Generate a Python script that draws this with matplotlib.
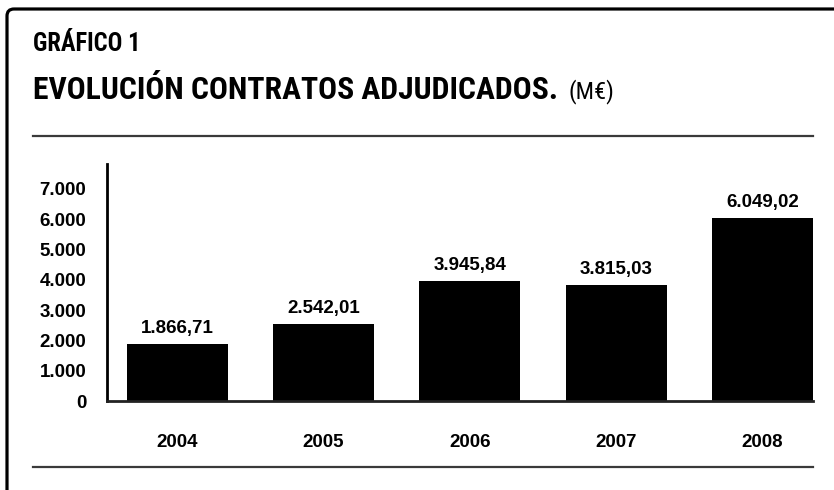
import matplotlib.pyplot as plt
from matplotlib.lines import Line2D
from matplotlib.path import Path
from matplotlib.patches import PathPatch
from matplotlib import font_manager
from matplotlib.font_manager import FontProperties

years = ['2004', '2005', '2006', '2007', '2008']
values = [1866.71, 2542.01, 3945.84, 3815.03, 6049.02]
value_labels = ['1.866,71', '2.542,01', '3.945,84', '3.815,03', '6.049,02']
yticks = [0, 1000, 2000, 3000, 4000, 5000, 6000, 7000]
ytick_labels = ['0', '1.000', '2.000', '3.000', '4.000', '5.000', '6.000', '7.000']

plt.rcParams['font.family'] = ['Liberation Sans', 'DejaVu Sans']


def weight_num(w):
    if isinstance(w, int):
        return w
    return font_manager.weight_dict.get(str(w), 400)


# look for a narrow / condensed face for the headline
cond = [f for f in font_manager.fontManager.ttflist
        if 'DejaVu' not in f.name and f.style == 'normal'
        and ('Narrow' in f.name or 'Condensed' in f.name or 'condensed' in str(f.stretch))]
for pref in ('Roboto Condensed', 'Liberation Sans Narrow', 'Roboto'):
    sub = [f for f in cond if f.name == pref]
    if sub:
        cond = sub
        break


def pick(target):
    if not cond:
        return FontProperties(family='Liberation Sans',
                              weight='bold' if target >= 700 else 'normal')
    best = min(cond, key=lambda f: abs(weight_num(f.weight) - target))
    return FontProperties(fname=best.fname)


head_bold = pick(700)
head_reg = pick(400)

W, H = 834, 490
fig = plt.figure(figsize=(W / 100, H / 100), dpi=100)


def fx(px):
    return px / W


def fy(py):
    return 1 - py / H


# outer frame: left and top sides with rounded corner
verts = [(fx(7), fy(495)), (fx(7), fy(16)), (fx(7), fy(9)), (fx(14), fy(9)), (fx(840), fy(9))]
codes = [Path.MOVETO, Path.LINETO, Path.CURVE3, Path.CURVE3, Path.LINETO]
fig.patches.append(PathPatch(Path(verts, codes), fill=False, lw=2.3, ec='black',
                             transform=fig.transFigure))

# separator lines
for y in (136, 467):
    fig.add_artist(Line2D([fx(33), fx(813)], [fy(y), fy(y)], color='#3a3a3a', lw=1.6,
                          transform=fig.transFigure))

renderer = fig.canvas.get_renderer()


def fit_text(x0, y0, s, width_px, size, fp):
    t = fig.text(fx(x0), fy(y0), s, fontproperties=fp, va='center', ha='left')
    t.set_fontsize(size)
    w = t.get_window_extent(renderer).width
    t.set_fontsize(size * width_px / w)
    return t


fit_text(33, 44, 'GRÁFICO 1', 108, 18, head_bold)
fit_text(33, 90, 'EVOLUCIÓN CONTRATOS ADJUDICADOS.', 525, 22, head_bold)
fit_text(568, 92, '(M€)', 46, 14, head_reg)

ax = fig.add_axes([fx(107), fy(401), fx(813) - fx(107), fy(164) - fy(401)])
x = range(len(years))
ax.bar(x, values, width=0.69, color='black')
for xi, v, lab in zip(x, values, value_labels):
    ax.annotate(lab, (xi, v), xytext=(0, 5), textcoords='offset points',
                ha='center', va='bottom', fontsize=13.5, weight='bold')

ax.set_xlim(-0.48, 4.345)
ax.set_ylim(0, 7820)
ax.set_yticks(yticks)
ax.set_yticklabels(ytick_labels, fontsize=13.5, weight='bold')
ax.set_xticks(list(x))
ax.set_xticklabels(years, fontsize=13.5, weight='bold')
ax.tick_params(axis='y', length=0, pad=15)
ax.tick_params(axis='x', length=0, pad=24)
for s in ('top', 'right'):
    ax.spines[s].set_visible(False)
ax.spines['left'].set_linewidth(2)
ax.spines['bottom'].set_linewidth(2)
ax.spines['bottom'].set_color('#222222')

fig.savefig('out.png', dpi=100)
